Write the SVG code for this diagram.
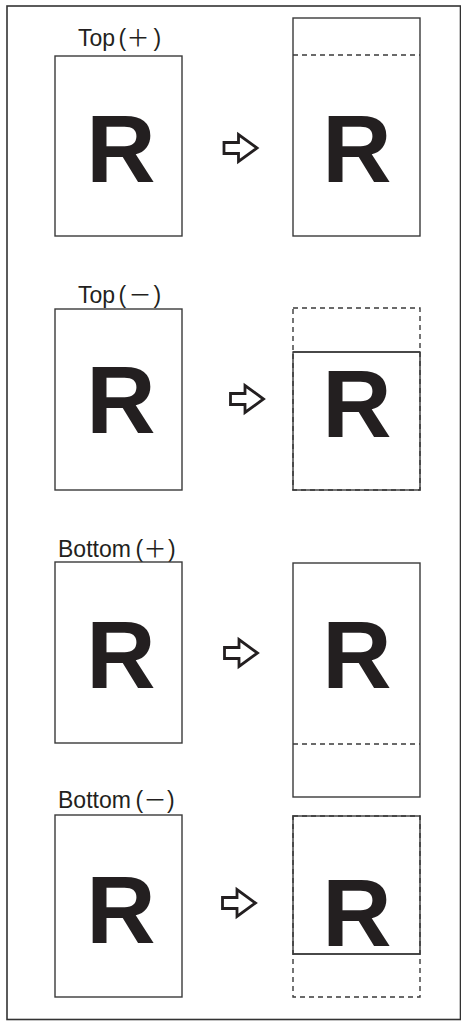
<svg xmlns="http://www.w3.org/2000/svg" xmlns:xlink="http://www.w3.org/1999/xlink" width="461" height="1021" viewBox="0 0 461 1021">
<style>
.box{fill:none;stroke:#3a3a3a;stroke-width:1.4}
.dash{fill:none;stroke:#3a3a3a;stroke-width:1.4;stroke-dasharray:5 4}
.lbl{font-family:"Liberation Sans",Arial,"Noto Sans CJK JP",sans-serif;font-size:23px;fill:#231f20}
.s{font-family:"Noto Sans CJK JP","Liberation Sans",sans-serif;font-size:23px}
.R{font-family:"Liberation Sans",Arial,sans-serif;font-weight:bold;font-size:96px;fill:#231f20;text-anchor:middle}
.arr{fill:#fff;stroke:#231f20;stroke-width:2.8;stroke-linejoin:miter}
</style>
<defs>
<path id="arrow" class="arr" d="M0,-5.5 H14.5 V-13.5 L33,0 L14.5,13.5 V5.5 H0 Z"/>
</defs>
<rect x="7" y="6" width="453.5" height="1013.5" fill="#fff" stroke="#333" stroke-width="1.6"/>

<g id="row1-before">
<text class="lbl" x="78" y="46">Top<tspan x="118.5">(</tspan><tspan class="s" x="126.5">＋</tspan><tspan x="153.5">)</tspan></text>
<rect class="box" x="55" y="56" width="127" height="180"/>
<text class="R" x="121" y="182">R</text>
</g>
<g id="row1-after">
<rect class="box" x="293" y="18" width="127" height="218"/>
<line class="dash" x1="293" y1="55" x2="420" y2="55"/>
<text class="R" x="357" y="182">R</text>
</g>

<g id="row2-before">
<text class="lbl" x="78" y="303">Top<tspan x="118.5">(</tspan><tspan class="s" x="128.5">－</tspan><tspan x="153.5">)</tspan></text>
<rect class="box" x="55" y="309" width="127" height="181"/>
<text class="R" x="121" y="433">R</text>
</g>
<g id="row2-after">
<rect class="box" x="293" y="352" width="127" height="138" stroke="#777"/>
<rect class="dash" x="293" y="308" width="127" height="182"/>
<line class="box" x1="293" y1="352" x2="420" y2="352"/>
<text class="R" x="357" y="437">R</text>
</g>

<g id="row3-before">
<text class="lbl" x="58" y="557">Bottom<tspan x="135.5">(</tspan><tspan class="s" x="143.5">＋</tspan><tspan x="168">)</tspan></text>
<rect class="box" x="55" y="562" width="127" height="181"/>
<text class="R" x="121" y="688">R</text>
</g>
<g id="row3-after">
<rect class="box" x="293" y="563" width="127" height="234"/>
<line class="dash" x1="293" y1="744" x2="420" y2="744"/>
<text class="R" x="357" y="688">R</text>
</g>

<g id="row4-before">
<text class="lbl" x="58" y="808">Bottom<tspan x="135.5">(</tspan><tspan class="s" x="143.5">－</tspan><tspan x="167">)</tspan></text>
<rect class="box" x="55" y="815" width="127" height="182"/>
<text class="R" x="121" y="943">R</text>
</g>
<g id="row4-after">
<rect class="box" x="293" y="816" width="127" height="138" stroke="#777"/>
<rect class="dash" x="293" y="816" width="127" height="181"/>
<line class="box" x1="293" y1="954" x2="420" y2="954"/>
<text class="R" x="357" y="946">R</text>
</g>

<g id="connectors">
<use xlink:href="#arrow" x="224" y="148"/>
<use xlink:href="#arrow" x="230.5" y="399"/>
<use xlink:href="#arrow" x="224.5" y="653"/>
<use xlink:href="#arrow" x="222.5" y="903"/>
</g>
</svg>
